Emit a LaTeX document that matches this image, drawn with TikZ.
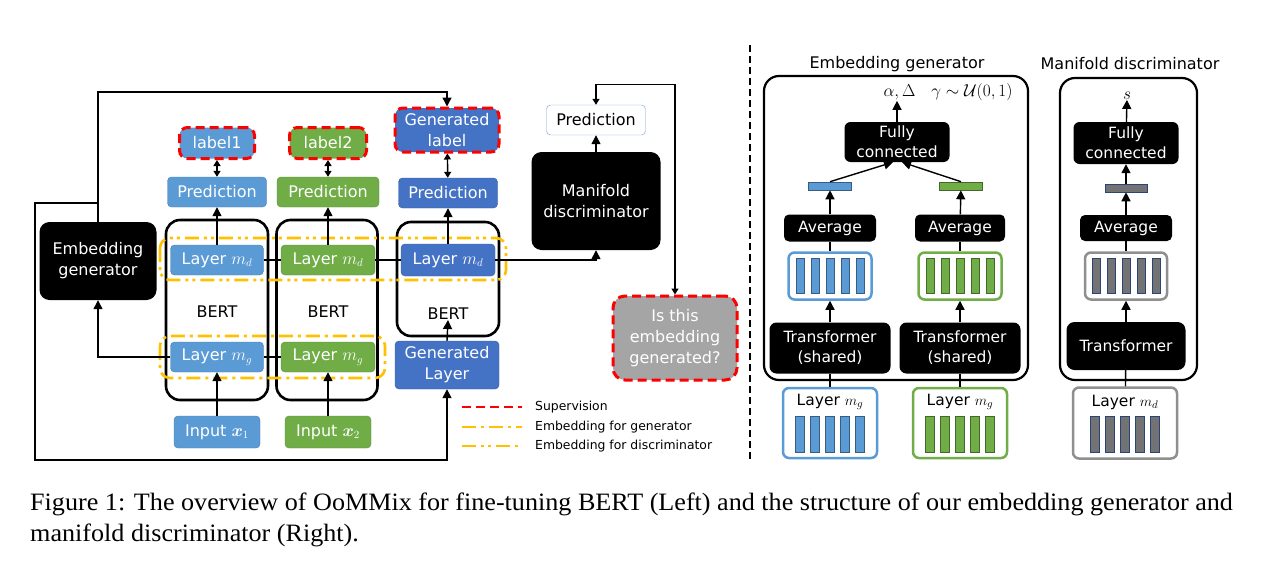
\documentclass[tikz,border=0pt]{standalone}
\usepackage{amsmath}
\usepackage{amssymb}
\usepackage{bm}
\usepackage{fontspec}
\setmainfont{Liberation Serif}
\newfontfamily\diafont{DejaVu Sans}
\usetikzlibrary{arrows.meta}
\usetikzlibrary{calc}
\usetikzlibrary{positioning}

\definecolor{cblue}{HTML}{5B9BD5}
\definecolor{cdblue}{HTML}{4472C4}
\definecolor{cgreen}{HTML}{70AD47}
\definecolor{cyel}{HTML}{FFC000}
\definecolor{cgray}{HTML}{A5A5A5}
\definecolor{cbar}{HTML}{737373}

\tikzset{
  every node/.append style={font=\diafont\fontsize{16}{21}\selectfont, inner sep=0pt, align=center},
  cbox/.style={draw=#1!80!black, fill=#1, text=white, rounded corners=4pt, minimum width=94pt, minimum height=30pt},
  supbox/.style={draw=red, line width=3pt, dash pattern=on 9pt off 5pt, rounded corners=8pt},
  blkbox/.style={fill=black, text=white, rounded corners=10pt},
  bertbox/.style={draw, line width=2.6pt, rounded corners=14pt, minimum width=102pt},
  panel/.style={draw, line width=2.2pt, rounded corners=15pt},
  tokbox/.style={draw=#1, line width=2.5pt, fill=white, rounded corners=6pt},
  tokbar/.style={draw=#1!60!black, line width=0.6pt, fill=#1},
  arr/.style={line width=1.4pt, -{Triangle[length=9pt,width=9pt]}},
  darr/.style={line width=1.4pt, {Triangle[length=6pt,width=7pt]}-{Triangle[length=6pt,width=7pt]}},
  ygen/.style={draw=cyel, line width=2.6pt, dash pattern=on 14pt off 5pt on 3pt off 5pt, rounded corners=10pt},
  ydis/.style={draw=cyel, line width=2.6pt, dash pattern=on 14pt off 5pt on 3pt off 4pt on 3pt off 5pt, rounded corners=10pt},
  small/.style={font=\diafont\fontsize{15.5}{20}\selectfont},
  legend/.style={anchor=west, font=\diafont\fontsize{12.4}{14}\selectfont},
  caption/.style={anchor=base west, font=\fontsize{25}{29}\selectfont, xscale=1.045, transform shape}
}

\begin{document}
\begin{tikzpicture}[x=1pt, y=-1pt]
      \useasboundingbox (0,0) rectangle (1287,573);

      % BERT blocks
      \node[bertbox, minimum height=180pt] (b1) at (217,310) {};
      \node[bertbox, minimum height=180pt, minimum width=101pt] (b2) at (327,310) {};
      \node[bertbox, minimum height=114pt] (b3) at (448,279) {};
      \node (bt1) at (217,312) {BERT};
      \node (bt2) at (328,312) {BERT};
      \node (bt3) at (448,314) {BERT};

      % embedding regions
      \draw[ydis] (160,238) rectangle (506,280);
      \draw[ygen] (160,336) rectangle (385,378);

      % left column
      \node[cbox=cblue, supbox, minimum width=75pt, minimum height=31pt] (lab1) at (217,143) {label1};
      \node[cbox=cblue, minimum width=99pt] (p1) at (217,192) {Prediction};
      \node[cbox=cblue, minimum width=93pt] (md1) at (217,260) {Layer $m_d$};
      \node[cbox=cblue, minimum width=93pt] (mg1) at (217,357) {Layer $m_g$};
      \node[cbox=cblue, minimum width=86pt, minimum height=32pt] (in1) at (217,432) {Input $\bm{x}_1$};

      % middle column
      \node[cbox=cgreen, supbox, minimum width=77pt, minimum height=31pt] (lab2) at (328,143) {label2};
      \node[cbox=cgreen, minimum width=102pt] (p2) at (328,192) {Prediction};
      \node[cbox=cgreen] (md2) at (328,260) {Layer $m_d$};
      \node[cbox=cgreen] (mg2) at (328,357) {Layer $m_g$};
      \node[cbox=cgreen, minimum width=86pt, minimum height=32pt] (in2) at (328,432) {Input $\bm{x}_2$};

      % generated column
      \node[cbox=cdblue, supbox, minimum width=104pt, minimum height=44pt] (glab) at (447,130) {Generated\\label};
      \node[cbox=cdblue, minimum width=99pt] (p3) at (448,193) {Prediction};
      \node[cbox=cdblue, minimum height=32pt] (md3) at (448,260) {Layer $m_d$};
      \node[cbox=cdblue, minimum width=104pt, minimum height=48pt] (gl) at (447,365) {Generated\\Layer};

      \node[blkbox, minimum width=117pt, minimum height=78pt] (eg) at (98,261) {Embedding\\generator};
      \node[blkbox, minimum width=129pt, minimum height=98pt] (mdisc) at (596,201) {Manifold\\discriminator};
      \node[draw=cdblue!70, fill=white, rounded corners=4pt, minimum width=99pt, minimum height=30pt] (pd) at (596,120) {Prediction};
      \node[supbox, fill=cgray, text=white, minimum width=124pt, minimum height=84pt, rounded corners=12pt] (gen) at (675,338) {Is this\\embedding\\generated?};

      \draw[darr] (p1) -- (lab1);
      \draw[darr] (p2) -- (lab2);
      \draw[darr] (p3) -- (glab);
      \draw[arr] (md1) -- (p1);
      \draw[arr] (md2) -- (p2);
      \draw[arr] (md3) -- (p3);
      \draw[arr] (in1) -- (mg1);
      \draw[arr] (in2) -- (mg2);
      \draw[arr] (gl.north) -- (bt3.south);

      \draw[line width=1.4pt] (md1.east) -- (md2.west);
      \draw[line width=1.4pt] (md2.east) -- (md3.west);
      \draw[arr] (md3.east) -| (mdisc.south);
      \draw[line width=1.4pt] (mg1.east) -- (mg2.west);
      \draw[arr] (mg1.west) -| (eg.south);
      \draw[arr] (mdisc) -- (pd);
      \draw[darr] (gen.north) -- ++(0,-210) -| (pd.north);

      % generator loop
      \coordinate (br) at (98,203);
      \draw[arr] (eg.north) -- ++(0,-130) -| (glab.north);
      \draw[arr] (br) -- ++(-63,0) -- ++(0,257) -| (gl.south);

      % legend
      \node[legend] (lg1) at (535,407) {Supervision};
      \node[legend] (lg2) at (535,427) {Embedding for generator};
      \node[legend] (lg3) at (535,446) {Embedding for discriminator};
      \draw[draw=red, line width=2.6pt, dash pattern=on 9pt off 5pt] ($(lg1.west)+(-73,0)$) -- ++(60,0);
      \draw[ygen, rounded corners=0pt] ($(lg2.west)+(-73,0)$) -- ++(60,0);
      \draw[ydis, rounded corners=0pt] ($(lg3.west)+(-73,0)$) -- ++(60,0);

      \draw[line width=2.5pt, dash pattern=on 7pt off 4pt] (750,45) -- (750,460);

      % right: embedding generator
      \node (t1) at (897,64) {Embedding generator};
      \draw[panel] (764,76) rectangle (1028,380);
      \node (al) at (948,92) {$\alpha,\Delta\quad\gamma\sim\mathcal{U}(0,1)$};
      \node[blkbox, small, rounded corners=6pt, minimum width=105pt, minimum height=40pt] (fc1) at (897,142) {Fully\\connected};
      \node[tokbar=cblue, minimum width=43pt, minimum height=8pt] (v1) at (830,186) {};
      \node[tokbar=cgreen, minimum width=43pt, minimum height=8pt] (v2) at (961,186) {};
      \node[blkbox, small, rounded corners=5pt, minimum width=92pt, minimum height=27pt] (av1) at (830,228) {Average};
      \node[blkbox, small, rounded corners=5pt, minimum width=90pt, minimum height=27pt] (av2) at (960,228) {Average};
      \node[tokbox=cblue, minimum width=83pt, minimum height=47pt] (tk1) at (830,276) {};
      \node[tokbox=cgreen, minimum width=83pt, minimum height=47pt] (tk2) at (960,276) {};
      \node[blkbox, small, rounded corners=7pt, minimum width=121pt, minimum height=51pt] (tf1) at (830,348) {Transformer\\(shared)};
      \node[blkbox, small, rounded corners=7pt, minimum width=121pt, minimum height=51pt] (tf2) at (960,348) {Transformer\\(shared)};
      \node[tokbox=cblue, minimum width=94pt, minimum height=70pt] (lg1b) at (830,423) {};
      \node[tokbox=cgreen, minimum width=94pt, minimum height=70pt] (lg2b) at (960,423) {};
      \node[small] at (830,402) {Layer $m_g$};
      \node[small] at (960,402) {Layer $m_g$};

      % right: manifold discriminator
      \node (t2) at (1130,64) {Manifold discriminator};
      \draw[panel] (1060,78) rectangle (1197,380);
      \node (s) at (1127,96) {$s$};
      \node[blkbox, small, rounded corners=6pt, minimum width=105pt, minimum height=42pt] (fc2) at (1126,143) {Fully\\connected};
      \node[tokbar=cbar, draw=cdblue!60!black, minimum width=42pt, minimum height=8pt] (v3) at (1126,188) {};
      \node[blkbox, small, rounded corners=5pt, minimum width=92pt, minimum height=26pt] (av3) at (1126,228) {Average};
      \node[tokbox=cbar!80, minimum width=82pt, minimum height=47pt] (tk3) at (1126,276) {};
      \node[blkbox, small, rounded corners=8pt, minimum width=119pt, minimum height=48pt] (tf3) at (1126,346) {Transformer};
      \node[tokbox=cbar!80, minimum width=104pt, minimum height=71pt] (lg3b) at (1125,423) {};
      \node[small] at (1125,402) {Layer $m_d$};

      % token bars
      \foreach \d in {-30,-15,0,15,30} {
        \draw[tokbar=cblue] ($(tk1)+(\d,0)$) +(-4,-17.5) rectangle +(4,17.5);
        \draw[tokbar=cgreen] ($(tk2)+(\d,0)$) +(-4,-17.5) rectangle +(4,17.5);
        \draw[tokbar=cbar, draw=cdblue!60!black] ($(tk3)+(\d,0)$) +(-4,-17.5) rectangle +(4,17.5);
        \draw[tokbar=cblue] ($(lg1b)+(\d,11)$) +(-4.5,-18) rectangle +(4.5,18);
        \draw[tokbar=cgreen] ($(lg2b)+(\d,11)$) +(-4.5,-18) rectangle +(4.5,18);
        \draw[tokbar=cbar, draw=cdblue!60!black] ($(lg3b)+(\d,11)$) +(-4.5,-18) rectangle +(4.5,18);
      }

      \draw[line width=1.4pt] (lg1b) -- (tf1);
      \draw[line width=1.4pt] (lg2b) -- (tf2);
      \draw[line width=1.4pt] (lg3b) -- (tf3);
      \draw[arr] (tf1) -- (tk1);
      \draw[arr] (tf2) -- (tk2);
      \draw[arr] (tf3) -- (tk3);
      \draw[line width=1.4pt] (tk1) -- (av1);
      \draw[line width=1.4pt] (tk2) -- (av2);
      \draw[line width=1.4pt] (tk3) -- (av3);
      \draw[arr] (av1) -- (v1);
      \draw[arr] (av2) -- (v2);
      \draw[arr] (av3) -- (v3);
      \draw[arr] (v1.north) -- ($(fc1.south)+(-4,0)$);
      \draw[arr] (v2.north) -- ($(fc1.south)+(5,0)$);
      \draw[arr] (v3) -- (fc2);
      \draw[arr] (fc1.north) -- (fc1.north |- al.south);
      \draw[arr] (fc2) -- (s);

      % caption
      \node[caption] (cap1) at (30,510) {Figure 1: The overview of OoMMix for fine-tuning BERT (Left) and the structure of our embedding generator and};
      \node[caption] (cap2) at (30,541) {manifold discriminator (Right).};
\end{tikzpicture}
\end{document}
